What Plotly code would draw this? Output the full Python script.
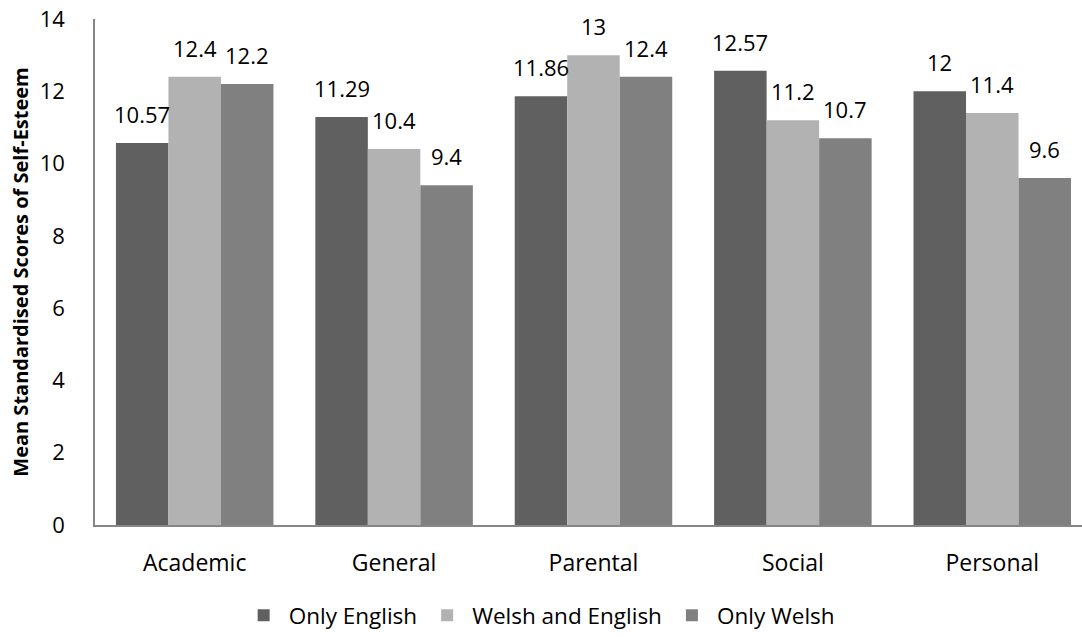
import plotly.graph_objects as go

categories = ["Academic", "General", "Parental", "Social", "Personal"]
only_english = [10.57, 11.29, 11.86, 12.57, 12]
welsh_and_english = [12.4, 10.4, 13, 11.2, 11.4]
only_welsh = [12.2, 9.4, 12.4, 10.7, 9.6]

series = [
    ("Only English", only_english, "#606060"),
    ("Welsh and English", welsh_and_english, "#b2b2b2"),
    ("Only Welsh", only_welsh, "#808080"),
]

FONT = "Open Sans"
bargap = 0.21
bar_w = (1 - bargap) / len(series)

fig = go.Figure()
annotations = []
for j, (name, vals, color) in enumerate(series):
    fig.add_trace(go.Bar(
        name=name,
        x=list(range(len(categories))),
        y=vals,
        marker=dict(color=color, line=dict(width=0)),
    ))
    for i, v in enumerate(vals):
        annotations.append(dict(
            x=i + (j - 1) * bar_w, y=v, xref="x", yref="y",
            text=f"{v:g}", showarrow=False,
            yanchor="bottom", yshift=12,
            font=dict(family=FONT, size=22, color="#000000"),
        ))

fig.update_layout(
    width=1082, height=637,
    margin=dict(l=95, r=0, t=19, b=108),
    barmode="group", bargap=bargap, bargroupgap=0,
    plot_bgcolor="white", paper_bgcolor="white",
    font=dict(family=FONT, size=22, color="#000000"),
    annotations=annotations,
    showlegend=True,
    legend=dict(
        orientation="h", x=0.45, xanchor="center", y=-0.18, yanchor="middle",
        font=dict(family=FONT, size=22.5), traceorder="normal",
        itemwidth=40,
    ),
    xaxis=dict(
        tickmode="array", tickvals=list(range(len(categories))), ticktext=categories,
        range=[-0.5, 4.45], showline=True, linecolor="#868686", linewidth=1.5,
        showgrid=False, zeroline=False, ticks="", ticklabelstandoff=17,
        tickfont=dict(family=FONT, size=23),
    ),
    yaxis=dict(
        range=[0, 14], dtick=2, tick0=0, showline=True, linecolor="#868686",
        linewidth=1.5, showgrid=False, zeroline=False, ticks="",
        ticklabelstandoff=24, tickfont=dict(family=FONT, size=22),
        title=dict(text="<b>Mean Standardised Scores of Self-Esteem</b>",
                   font=dict(family=FONT, size=20), standoff=6),
    ),
)

fig.write_html("out.html")
